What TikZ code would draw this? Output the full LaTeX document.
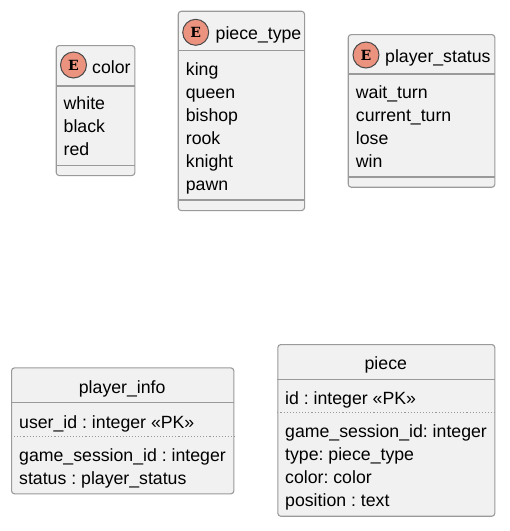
\documentclass[tikz,border=0pt]{standalone}
\usepackage{fontspec}
\setmainfont{Liberation Sans}
\newfontfamily\spotfont{DejaVu Serif}
\usepackage{xcolor}
\usepackage{tikz}
\usetikzlibrary{positioning}
\definecolor{boxfill}{HTML}{F1F1F1}
\definecolor{boxline}{HTML}{9A9A9A}
\definecolor{spotfill}{HTML}{EB937F}
\definecolor{spotline}{HTML}{4A4A4A}
\frenchspacing

\begin{document}
\begin{tikzpicture}[x=1pt, y=-1pt, font=\fontsize{17.7pt}{23pt}\selectfont]
    \tikzstyle{entity}=[rectangle, draw=boxline, fill=boxfill, line width=1.1pt, rounded corners=3pt, anchor=north west, inner sep=0pt]
    \tikzstyle{sep}=[draw=boxline, line width=1.1pt]
    \tikzstyle{keysep}=[draw=boxline, line width=1.1pt, dotted]
    \tikzstyle{spot}=[circle, draw=spotline, fill=spotfill, line width=1pt, minimum size=26pt, inner sep=0pt, font=\spotfont\bfseries\fontsize{14pt}{14pt}\selectfont]
    \tikzstyle{row}=[anchor=base west, inner sep=0pt]
    \tikzstyle{title}=[anchor=base, inner sep=0pt]
    \useasboundingbox (0,0) rectangle (510,531);

    % enum color
    \node[entity, minimum width=78.6pt, minimum height=130pt] (color) at (55.7,45) {};
    \node[spot] (colorspot) at (73.5,65) {E};
    \node[row] (colorname) at (92,73.5) {color};
    \draw[sep] (color.west |- 0,86) -- (color.east |- 0,86);
    \node[row] (white) at (63.5,109.5) {white};
    \node[row] (black) at (63.5,132.5) {black};
    \node[row] (red) at (63.5,155.5) {red};
    \draw[sep] (color.west |- 0,165.7) -- (color.east |- 0,165.7);

    % enum piece_type
    \node[entity, minimum width=126.3pt, minimum height=199.3pt] (piecetype) at (177.7,10.7) {};
    \node[spot] (piecetypespot) at (195.7,32.3) {E};
    \node[row] (piecetypename) at (215.5,39.2) {piece\_type};
    \draw[sep] (piecetype.west |- 0,50.7) -- (piecetype.east |- 0,50.7);
    \node[row] (king) at (185.7,75.5) {king};
    \node[row] (queen) at (185.7,98.5) {queen};
    \node[row] (bishop) at (185.7,121.5) {bishop};
    \node[row] (rook) at (185.7,144.5) {rook};
    \node[row] (knight) at (185.7,167.5) {knight};
    \node[row] (pawn) at (185.7,190.5) {pawn};
    \draw[sep] (piecetype.west |- 0,200) -- (piecetype.east |- 0,200);

    % enum player_status
    \node[entity, minimum width=146.6pt, minimum height=152.7pt] (playerstatus) at (347.7,34) {};
    \node[spot] (playerstatusspot) at (366,55) {E};
    \node[row] (playerstatusname) at (385,62.5) {player\_status};
    \draw[sep] (playerstatus.west |- 0,74) -- (playerstatus.east |- 0,74);
    \node[row] (waitturn) at (355.7,98.5) {wait\_turn};
    \node[row] (currentturn) at (355.7,121.5) {current\_turn};
    \node[row] (lose) at (355.7,144.5) {lose};
    \node[row] (win) at (355.7,167.5) {win};
    \draw[sep] (playerstatus.west |- 0,177) -- (playerstatus.east |- 0,177);

    % table player_info
    \node[entity, minimum width=222.3pt, minimum height=126pt] (playerinfo) at (11,367.3) {};
    \node[title] (playerinfoname) at (122.2,393.6) {player\_info};
    \draw[sep] (playerinfo.west |- 0,402.7) -- (playerinfo.east |- 0,402.7);
    \node[row] (userid) at (19,428) {user\_id : integer «PK»};
    \draw[keysep] (playerinfo.west |- 0,436.7) -- (playerinfo.east |- 0,436.7);
    \node[row] (infosession) at (19,461) {game\_session\_id : integer};
    \node[row] (infostatus) at (19,484) {status : player\_status};

    % table piece
    \node[entity, minimum width=217pt, minimum height=171.7pt] (piece) at (277.3,344) {};
    \node[title] (piecename) at (385.8,369.5) {piece};
    \draw[sep] (piece.west |- 0,379.3) -- (piece.east |- 0,379.3);
    \node[row] (pieceid) at (285,404.5) {id : integer «PK»};
    \draw[keysep] (piece.west |- 0,412.3) -- (piece.east |- 0,412.3);
    \node[row] (piecesession) at (285,437) {game\_session\_id: integer};
    \node[row] (piecekind) at (285,460) {type: piece\_type};
    \node[row] (piececolor) at (285,483) {color: color};
    \node[row] (pieceposition) at (285,506) {position : text};
  \end{tikzpicture}
\end{document}
